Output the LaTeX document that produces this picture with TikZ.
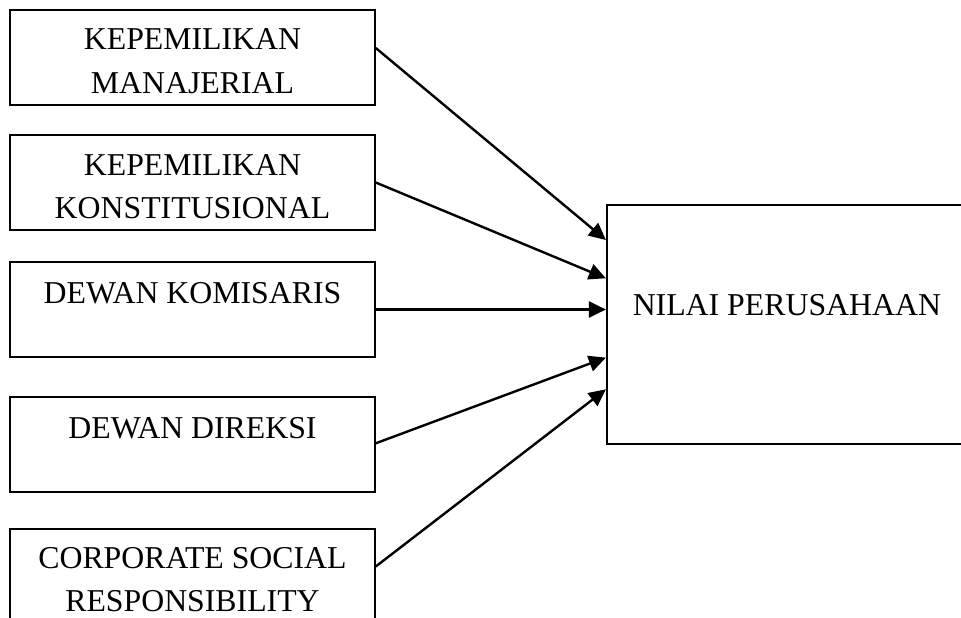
\documentclass[tikz,border=0pt]{standalone}
\usepackage{fontspec}
\setmainfont{Liberation Serif}
\usetikzlibrary{arrows.meta,calc}
\begin{document}
\begin{tikzpicture}[x=1pt,y=-1pt,
  box/.style={draw=black,line width=2pt,minimum width=364.5pt,inner sep=0pt,rectangle},
  lbl/.style={font=\fontsize{31.8}{43}\selectfont,anchor=base,inner sep=0pt},
  arr/.style={line width=2.4pt,-{Triangle[length=17pt,width=16pt]}}]
\useasboundingbox (0,0) rectangle (961,618);
\clip (0,0) rectangle (961,618);
% left boxes
\node[box,minimum height=95pt] (b1) at (192.5,57.5) {};
\node[box,minimum height=95pt] (b2) at (192.5,182.5) {};
\node[box,minimum height=94.3pt] (b3) at (192.5,309.5) {};
\node[box,minimum height=94.7pt] (b4) at (192.5,444.3) {};
\node[box,minimum height=95pt] (b5) at (192.5,576.5) {};
% right box
\node[box,minimum width=360pt,minimum height=239.5pt] (r) at (786.9,324.3) {};
% texts
\node[lbl] (t1a) at (192.5,50) {KEPEMILIKAN};
\node[lbl] (t1b) at (192.5,93.3) {MANAJERIAL};
\node[lbl] (t2a) at (192.5,175) {KEPEMILIKAN};
\node[lbl] (t2b) at (192.5,218.3) {KONSTITUSIONAL};
\node[lbl] (t3) at (192.5,303.3) {DEWAN KOMISARIS};
\node[lbl] (t4) at (192.5,438) {DEWAN DIREKSI};
\node[lbl] (t5a) at (192.5,568.3) {CORPORATE SOCIAL};
\node[lbl] (t5b) at (192.5,611.7) {RESPONSIBILITY};
\node[lbl] (tr) at (786.9,315) {NILAI PERUSAHAAN};
% arrows
\draw[arr] ([yshift=9.5pt]b1.east) -- ([yshift=84.3pt]r.west);
\draw[arr] (b2.east) -- ([yshift=46pt]r.west);
\draw[arr] (b3.east) -- ([yshift=14.8pt]r.west);
\draw[arr] ([yshift=1pt]b4.east) -- ([yshift=-33.3pt]r.west);
\draw[arr] ([yshift=10pt]b5.east) -- ([yshift=-65pt]r.west);
\end{tikzpicture}
\end{document}
